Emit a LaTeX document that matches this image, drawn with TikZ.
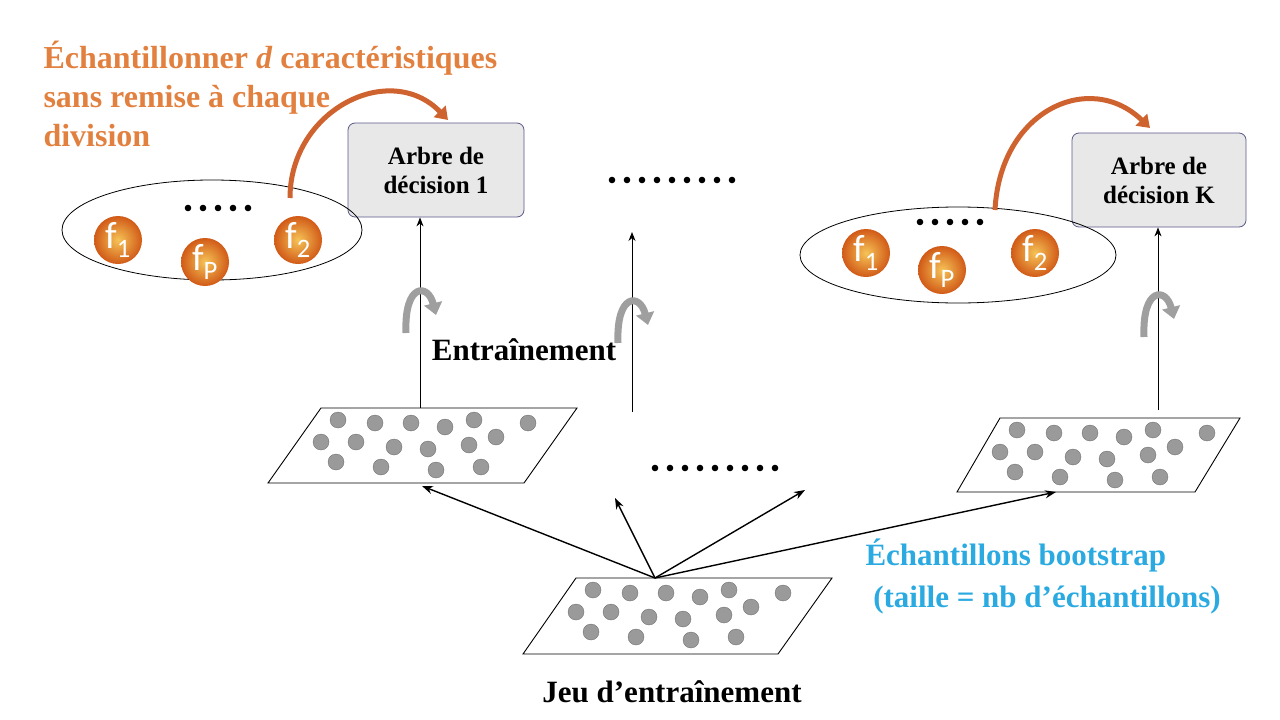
\documentclass[tikz,border=0pt]{standalone}
\usepackage{fontspec}
\setmainfont{Liberation Serif}
\newfontfamily\fsans{Carlito}
\usetikzlibrary{arrows.meta,shapes.geometric}
\definecolor{org}{HTML}{E2813F}
\definecolor{ball}{HTML}{E8641A}
\definecolor{cy}{HTML}{2AAAE0}
\definecolor{dotg}{HTML}{9A9A9A}
\begin{document}
\begin{tikzpicture}[x=1pt,y=-1pt,
  box/.style={draw=black!35!blue!30!gray,fill=black!9,rounded corners=7pt,line width=0.8pt,align=center,font=\bfseries\fontsize{25}{29}\selectfont},
  feat/.style={circle,minimum size=48pt,inner sep=0,inner color=ball!55!yellow!70!white,outer color=ball!90!black,text=white,font=\fsans\fontsize{38}{38}\selectfont},
  ell/.style={draw,ellipse,line width=0.8pt},
  up/.style={-{Stealth[length=9pt,width=7pt]},line width=1pt},
  sd/.style={-{Stealth[length=11pt,width=8pt]},line width=1.4pt},
  rot/.style={line width=7pt,draw=gray!75,-{Triangle[length=12pt,width=18pt]}},
  oarr/.style={line width=5pt,draw=org!85!red!90!black,-{Triangle[length=12pt,width=16pt]}}]
\useasboundingbox (0,0) rectangle (1280,720);
\tikzset{pdot/.style={fill=dotg,draw=gray!80!black,line width=0.3pt},
  para/.style={draw,line width=0.9pt,fill=white},
  pics/dset/.style={code={
  \foreach \a/\b in {17/12,54/15,90/15,124/19,153/12,207/15,0/34,35/34,73/39,107/41,148/37,175/29,15/54,60/59,115/62,160/59}
    \fill[pdot] (\a,\b) circle (8);
}},
  pics/dots/.style={code={
  \foreach \i in {1,...,#1} \fill (\i*15,0) circle (3.3);
}}}
% title
\node[anchor=west,text=org,align=left,font=\bfseries\fontsize{32}{39}\selectfont] (title) at (40,94) {Échantillonner \textit{d} caractéristiques\\sans remise à chaque\\division};
% boxes
\node[box,minimum width=176pt,minimum height=94pt] (t1) at (436,170) {Arbre de\\décision 1};
\node[box,minimum width=174pt,minimum height=94pt] (tk) at (1159,180) {Arbre de\\décision K};
% ellipses
\node[ell,minimum width=300pt,minimum height=100pt] (e1) at (212,230) {};
\node[ell,minimum width=316pt,minimum height=96pt] (e2) at (958,255) {};
\node[feat] (a1) at (118,240) {f\textsubscript{1}};
\node[feat] (ap) at (205,262) {f\textsubscript{P}};
\node[feat] (a2) at (298,240) {f\textsubscript{2}};
\node[feat] (b1) at (866,253) {f\textsubscript{1}};
\node[feat] (bp) at (942,270) {f\textsubscript{P}};
\node[feat] (b2) at (1035,253) {f\textsubscript{2}};
\pic at (173,208) {dots=5};
\pic at (905,222) {dots=5};
\pic at (597,180) {dots=9};
\pic at (640,468) {dots=9};
% orange arrows
\coordinate (o1s) at (290,198); \coordinate (o1e) at (448,120);
\coordinate (o2s) at (995,210); \coordinate (o2e) at (1150,128);
\draw[oarr] (o1s) .. controls (290,110) and (390,60) .. (o1e);
\draw[oarr] (o2s) .. controls (1000,110) and (1090,70) .. (o2e);
% datasets
\draw[para] (268,483) -- (321,408) -- (577,408) -- (524,483) -- cycle;
\draw[para] (957,492) -- (1000,418) -- (1240,418) -- (1195,492) -- cycle;
\draw[para] (523,654) -- (576,578) -- (832,578) -- (778,654) -- cycle;
\pic at (321,408) {dset};
\pic at (1000,418) {dset};
\pic at (576,578) {dset};
% vertical arrows
\coordinate (v1) at (420,408); \coordinate (v2) at (632,412); \coordinate (v3) at (1158,410);
\coordinate (w2) at (632,232);
\draw[up] (v1) -- (t1.south -| v1);
\draw[up] (v2) -- (w2);
\draw[up] (v3) -- (tk.south -| v3);
% rotation arrows
\foreach \x/\y in {420/305,632/315,1158/309}
  \draw[rot] (\x-14,\y+28) .. controls (\x-16,\y-22) and (\x+8,\y-22) .. (\x+16,\y+10);
\node[font=\bfseries\fontsize{31}{34}\selectfont] (tr) at (524,350) {Entraînement};
% bootstrap arrows
\coordinate (src) at (655,578);
\coordinate (q1) at (422,486); \coordinate (q2) at (615,498); \coordinate (q3) at (805,490); \coordinate (q4) at (1056,492);
\foreach \q in {q1,q2,q3,q4} \draw[sd] (src) -- (\q);
\node[text=cy,align=left,anchor=west,font=\bfseries\fontsize{31}{42}\selectfont] (bs) at (862,576) {Échantillons bootstrap\\\ (taille = nb d’échantillons)};
\node[font=\bfseries\fontsize{31}{34}\selectfont] (jeu) at (672,692) {Jeu d’entraînement};
\end{tikzpicture}
\end{document}
